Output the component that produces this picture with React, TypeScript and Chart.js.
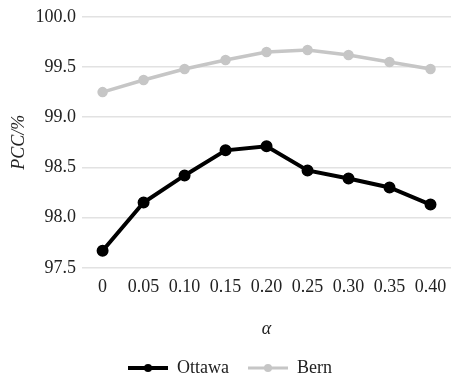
import React, { useEffect, useRef } from "react";
import { Chart, registerables } from "chart.js";

Chart.register(...registerables);

const categories = ["0", "0.05", "0.10", "0.15", "0.20", "0.25", "0.30", "0.35", "0.40"];
const ottawa = [97.67, 98.15, 98.42, 98.67, 98.71, 98.47, 98.39, 98.3, 98.13];
const bern = [99.25, 99.37, 99.48, 99.57, 99.65, 99.67, 99.62, 99.55, 99.48];
const seriesNames = ["Ottawa", "Bern"];
const seriesColors = ["#000000", "#c6c6c6"];

const FONT = "'Liberation Serif', 'Times New Roman', serif";
const FS = 18;

function legendIcon(color: string, lw: number) {
  const c = document.createElement("canvas");
  c.width = 40;
  c.height = 10;
  const ctx = c.getContext("2d")!;
  ctx.strokeStyle = color;
  ctx.lineWidth = lw;
  ctx.beginPath();
  ctx.moveTo(0, 5);
  ctx.lineTo(40, 5);
  ctx.stroke();
  ctx.fillStyle = color;
  ctx.beginPath();
  ctx.arc(20, 5, 4, 0, Math.PI * 2);
  ctx.fill();
  return c;
}

export default function App() {
  const ref = useRef<HTMLCanvasElement>(null);
  useEffect(() => {
    const icons = [legendIcon(seriesColors[0], 4), legendIcon(seriesColors[1], 3)];
    const chart = new Chart(ref.current!, {
      type: "line",
      data: {
        labels: categories,
        datasets: [
          {
            label: seriesNames[0],
            data: ottawa,
            borderColor: seriesColors[0],
            backgroundColor: seriesColors[0],
            borderWidth: 4,
            pointRadius: 4,
            pointHoverRadius: 4,
            tension: 0,
          },
          {
            label: seriesNames[1],
            data: bern,
            borderColor: seriesColors[1],
            backgroundColor: seriesColors[1],
            borderWidth: 3.5,
            pointRadius: 3.5,
            pointHoverRadius: 3.5,
            tension: 0,
          },
        ],
      },
      options: {
        animation: false,
        responsive: false,
        maintainAspectRatio: false,
        layout: { padding: { top: 6, right: 7, left: 8, bottom: -13 } },
        plugins: {
          tooltip: { enabled: false },
          legend: {
            position: "bottom",
            labels: {
              usePointStyle: true,
              pointStyleWidth: 40,
              color: "#222",
              font: { family: FONT, size: FS },
              padding: 19,
              generateLabels: (ch: any) =>
                ch.data.datasets.map((ds: any, i: number) => ({
                  text: ds.label,
                  fillStyle: ds.borderColor,
                  strokeStyle: ds.borderColor,
                  lineWidth: 0,
                  pointStyle: icons[i],
                  hidden: false,
                  datasetIndex: i,
                  fontColor: "#222",
                })),
            },
          },
        },
        scales: {
          x: {
            offset: true,
            grid: { display: false, drawTicks: false },
            border: { display: false },
            ticks: {
              color: "#222",
              font: { family: FONT, size: FS },
              padding: 9,
              maxRotation: 0,
              autoSkip: false,
            },
            title: {
              display: true,
              text: "α",
              color: "#222",
              font: { family: FONT, size: FS, style: "italic" },
              padding: { top: 11, bottom: 0 },
            },
          },
          y: {
            min: 97.5,
            max: 100,
            grid: { color: "#e2e2e2", lineWidth: 1.5, drawTicks: false },
            border: { display: false },
            ticks: {
              stepSize: 0.5,
              color: "#222",
              font: { family: FONT, size: FS },
              padding: 6,
              callback: (v: any) => Number(v).toFixed(1),
            },
            title: {
              display: true,
              text: "PCC/%",
              color: "#222",
              font: { family: FONT, size: FS, style: "italic" },
              padding: { top: 0, bottom: 0 },
            },
          },
        },
      },
    });
    return () => chart.destroy();
  }, []);
  return (
    <div style={{ position: "fixed", left: 0, top: 0, width: 459, height: 374, background: "#fff" }}>
      <canvas ref={ref} width={459} height={374} style={{ width: 459, height: 374 }} />
    </div>
  );
}
